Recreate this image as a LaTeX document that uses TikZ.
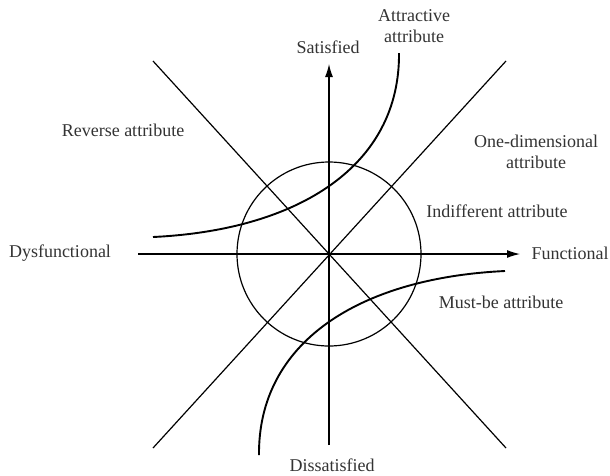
\documentclass[tikz,border=0pt]{standalone}
\usepackage{fontspec}
\setmainfont{Liberation Serif}
\usetikzlibrary{arrows.meta}
\begin{document}
\begin{tikzpicture}[x=1pt,y=-1pt,line width=1.2pt,
    txt/.style={font=\fontsize{18}{21}\selectfont,text=black!80,align=center,inner sep=0pt},
    axis/.style={-{Latex[length=13pt,width=8pt]}},
    curve/.style={line width=1.9pt}]
                \useasboundingbox (0,0) rectangle (610,475);
                \coordinate (o) at (329,254);
                \coordinate (xl) at (138,254);
                \coordinate (xr) at (520,254);
                \coordinate (yb) at (329,445);
                \coordinate (yt) at (329,64);
                \coordinate (tl) at (153,61);
                \coordinate (br) at (506,448);
                \coordinate (tr) at (506,61);
                \coordinate (bl) at (153,448);
                \coordinate (a1) at (153,237);
                \coordinate (a2) at (399,53);
                \coordinate (m1) at (259,455);
                \coordinate (m2) at (505,271);

                \node[txt] at (60,253) (dys) {Dysfunctional};
                \node[txt] at (570,253) (fun) {Functional};
                \node[txt] at (328,47) (sat) {Satisfied};
                \node[txt] at (332,465) (dis) {Dissatisfied};
                \node[txt] at (414,26) (att) {Attractive\\attribute};
                \node[txt] at (123,130) (rev) {Reverse attribute};
                \node[txt] at (536,152) (one) {One-dimensional\\attribute};
                \node[txt] at (497,211) (ind) {Indifferent attribute};
                \node[txt] at (501,302) (must) {Must-be attribute};

                \draw[axis] (xl) -- (xr);
                \draw[axis] (yb) -- (yt);
                \draw (tl) -- (br);
                \draw (bl) -- (tr);
                \draw (o) circle[radius=92];
                \draw[curve] (a1) .. controls (300,230) and (400,165) .. (a2);
                \draw[curve] (m2) .. controls (358,278) and (258,343) .. (m1);
            \end{tikzpicture}
\end{document}
